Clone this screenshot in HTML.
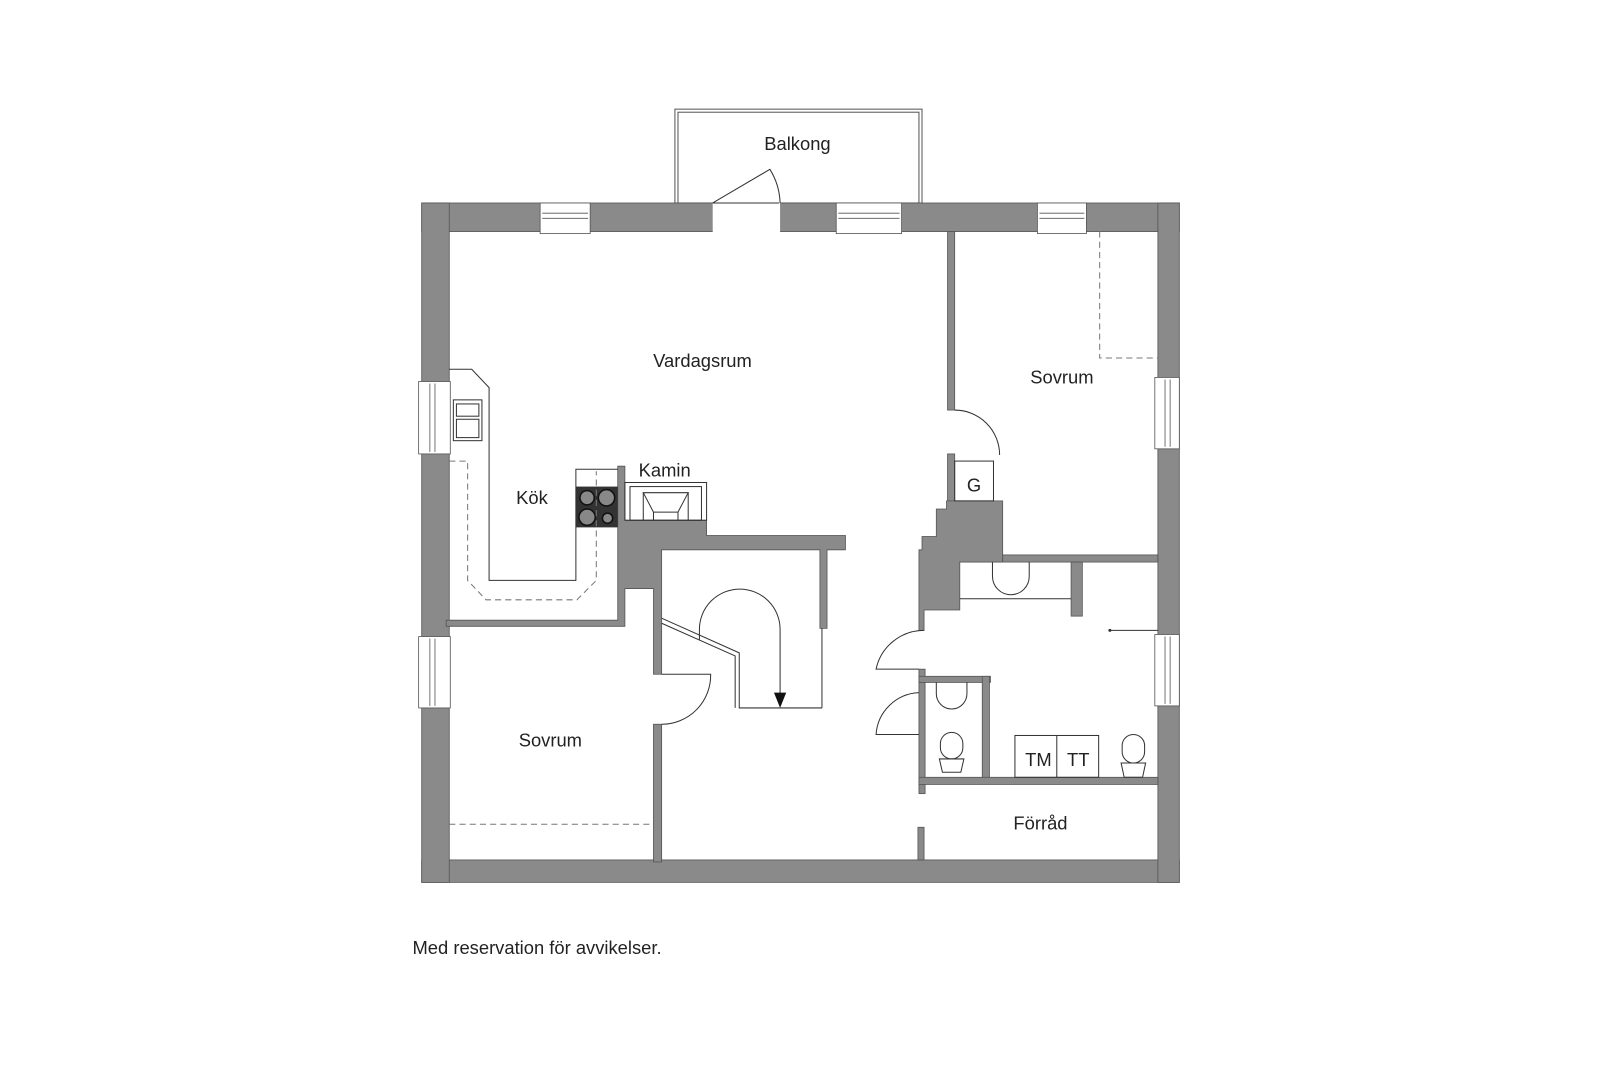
<!DOCTYPE html>
<html><head><meta charset="utf-8"><style>
html,body{margin:0;padding:0;background:#fff;}
svg{display:block;}
text{font-family:"Liberation Sans",sans-serif;font-size:18px;fill:#222;}
</style></head><body>
<svg width="1600" height="1067" viewBox="0 0 1567 1046" preserveAspectRatio="none" xmlns="http://www.w3.org/2000/svg">
<rect width="1567" height="1046" fill="#fff"/>
<rect x="661" y="107" width="242" height="92" fill="none" stroke="#555" stroke-width="1"/>
<rect x="664" y="110" width="236" height="89" fill="none" stroke="#555" stroke-width="1"/>
<g fill="#8a8a8a" stroke="#555" stroke-width="0.8">
<rect x="413" y="199" width="742" height="28"/>
<rect x="413" y="843" width="742" height="22"/>
<rect x="413" y="199" width="27" height="666"/>
<rect x="1134" y="199" width="21" height="666"/>
<rect x="928" y="227" width="7" height="175"/>
<rect x="928" y="445" width="7" height="47"/>
<polygon points="927,491 982,491 982,551 940,551 940,598 905,598 905,618 900,618 900,539 903,539 903,526 917,526 917,499 927,499"/>
<rect x="982" y="544" width="152" height="7"/>
<rect x="1049" y="551" width="11" height="53"/>
<rect x="900" y="656" width="6" height="122"/>
<rect x="900" y="663" width="70" height="6"/>
<rect x="962" y="663" width="7" height="104"/>
<rect x="900" y="762" width="234" height="7"/>
<rect x="899" y="811" width="6" height="32"/>
<polygon points="605,457 612,457 612,510 692,510 692,525 828,525 828,539 810,539 810,616 803,616 803,539 648,539 648,661 640,661 640,577 612,577 612,614 437,614 437,608 605,608"/>
<rect x="640" y="710" width="8" height="135"/>
</g>
<g fill="#fff" stroke="#555" stroke-width="0.8">
<rect x="529" y="199" width="49" height="30"/>
<rect x="819" y="199" width="64" height="30"/>
<rect x="1016" y="199" width="48" height="30"/>
<rect x="410" y="374" width="31" height="71"/>
<rect x="410" y="624" width="31" height="70"/>
<rect x="1131" y="370" width="24" height="70"/>
<rect x="1131" y="622" width="24" height="70"/>
</g>
<g stroke="#555" stroke-width="0.8" fill="none">
<line x1="531" y1="209" x2="576" y2="209"/><line x1="531" y1="214" x2="576" y2="214"/>
<line x1="821" y1="209" x2="881" y2="209"/><line x1="821" y1="214" x2="881" y2="214"/>
<line x1="1018" y1="209" x2="1062" y2="209"/><line x1="1018" y1="214" x2="1062" y2="214"/>
<line x1="421" y1="376" x2="421" y2="443"/><line x1="426" y1="376" x2="426" y2="443"/>
<line x1="421" y1="626" x2="421" y2="692"/><line x1="426" y1="626" x2="426" y2="692"/>
<line x1="1141" y1="372" x2="1141" y2="438"/><line x1="1146" y1="372" x2="1146" y2="438"/>
<line x1="1141" y1="624" x2="1141" y2="690"/><line x1="1146" y1="624" x2="1146" y2="690"/>
</g>
<rect x="698" y="198" width="66" height="30" fill="#fff"/>
<g stroke="#333" stroke-width="1" fill="none">
<line x1="698" y1="199" x2="763" y2="199"/>
<path d="M698,199 L754,166 A66,66 0 0 1 764,199"/>
<path d="M935,402 A44,44 0 0 1 979,446"/>
<path d="M905,618 A48,48 0 0 0 858,656 L900,656"/>
<path d="M900,679 A44,44 0 0 0 858,720 L900,720"/>
<path d="M648,661 L696,661 A48,48 0 0 1 648,710"/>
<rect x="935" y="452" width="38" height="39"/>
<path d="M440,362 L462,362 L479,380 L479,569 L564,569 L564,460 L605,460"/>
<rect x="444" y="392" width="28" height="40"/>
<rect x="447" y="396" width="22" height="12"/>
<rect x="447" y="411" width="22" height="18"/>
<rect x="612" y="473" width="80" height="37"/>
<rect x="617" y="477" width="70" height="33"/>
<path d="M630,483 L674,483 L664,502 L640,502 Z"/>
<line x1="630" y1="483" x2="630" y2="510"/><line x1="674" y1="483" x2="674" y2="510"/>
<line x1="640" y1="502" x2="640" y2="510"/><line x1="664" y1="502" x2="664" y2="510"/>
<path d="M648,606 L724,640 L724,694 L805,694"/>
<path d="M648,611 L720,643 L720,694"/>
<line x1="805" y1="616" x2="805" y2="694"/>
<path d="M685,620 L685,617 A39.5,39.5 0 0 1 764,617 L764,682"/>
<line x1="685" y1="620" x2="685" y2="627"/>
<line x1="940" y1="587" x2="1049" y2="587"/>
<line x1="1087" y1="618" x2="1134" y2="618"/>
<rect x="994" y="721" width="82" height="41"/>
<line x1="1035" y1="721" x2="1035" y2="762"/>
<path d="M972,551 L972,565 A18,18 0 0 0 1008,565 L1008,551"/>
<path d="M917,669 L917,680 A15,15 0 0 0 947,680 L947,669"/>
<rect x="921" y="718" width="22" height="26" rx="11"/>
<path d="M920,744 L944,744 L941,757 L923,757 Z"/>
<rect x="1099" y="720" width="22" height="28" rx="11"/>
<path d="M1098,748 L1122,748 L1119,762 L1101,762 Z"/>
</g>
<circle cx="1087" cy="618" r="1.5" fill="#333"/>
<polygon points="758,679 770,679 764,694" fill="#111"/>
<rect x="564" y="477" width="41" height="40" fill="#333"/>
<g fill="#888" stroke="#111" stroke-width="1.5">
<circle cx="575" cy="488" r="7"/><circle cx="594" cy="488" r="8"/>
<circle cx="575" cy="507" r="8"/><circle cx="595" cy="508" r="5"/>
</g>
<g stroke="#777" stroke-width="1" fill="none" stroke-dasharray="6,4">
<path d="M440,452 L458,452 L458,569 L476,588 L565,588 L584,569 L584,462"/>
<path d="M1077,227 L1077,351 L1134,351"/>
<line x1="440" y1="808" x2="640" y2="808"/>
</g>
<text x="781" y="147" text-anchor="middle">Balkong</text>
<text x="688" y="360" text-anchor="middle">Vardagsrum</text>
<text x="1040" y="376" text-anchor="middle">Sovrum</text>
<text x="651" y="467" text-anchor="middle">Kamin</text>
<text x="521" y="494" text-anchor="middle">Kök</text>
<text x="954" y="482" text-anchor="middle">G</text>
<text x="539" y="732" text-anchor="middle">Sovrum</text>
<text x="1017" y="751" text-anchor="middle">TM</text>
<text x="1056" y="751" text-anchor="middle">TT</text>
<text x="1019" y="813" text-anchor="middle">Förråd</text>
<text x="404" y="935">Med reservation för avvikelser.</text>
</svg>
</body></html>
